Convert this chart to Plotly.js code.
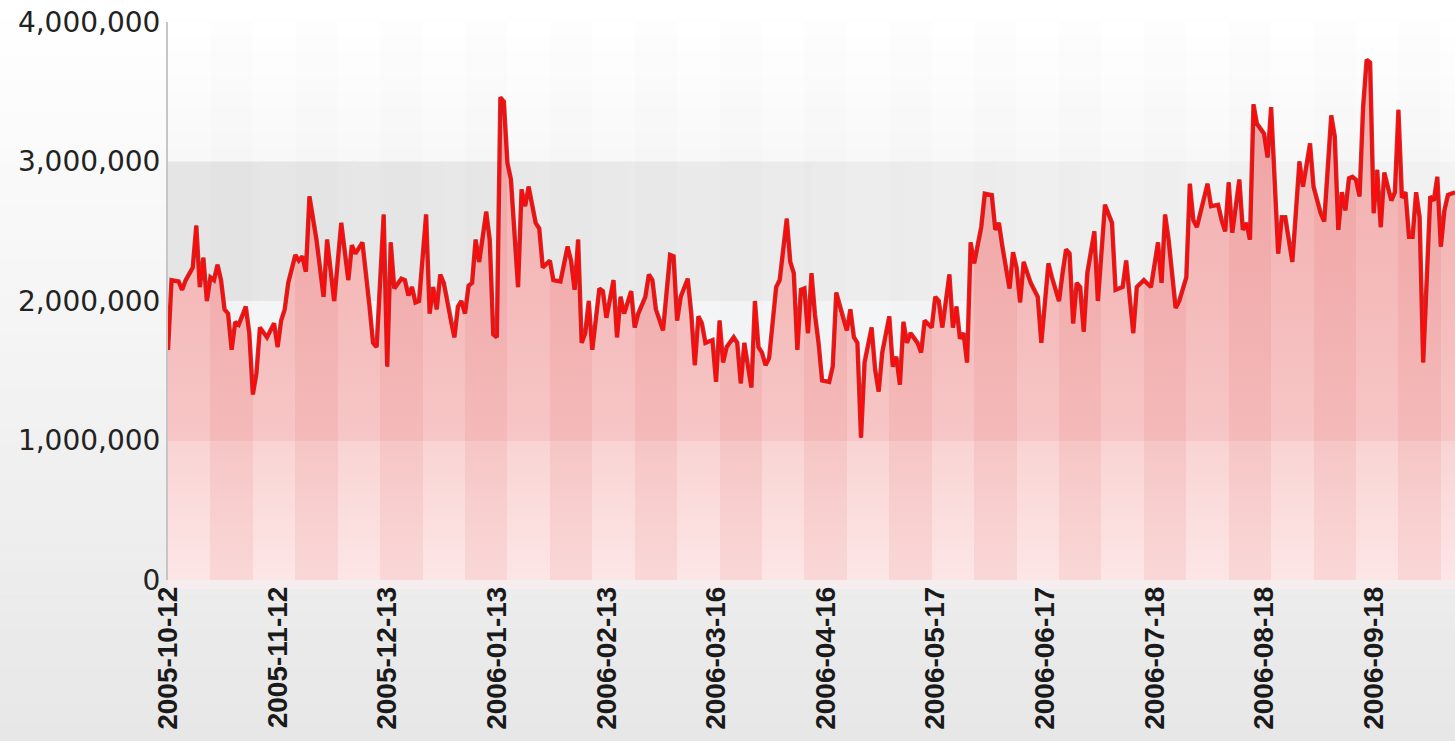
<!DOCTYPE html>
<html>
<head>
<meta charset="utf-8">
<script src="https://cdn.plot.ly/plotly-3.0.1.min.js"></script>
<style>
  html, body { margin: 0; padding: 0; background: #ffffff; }
  #chart { width: 1455px; height: 741px; }
</style>
</head>
<body>
<div id="chart"></div>
<script>
// ---------------- DATA ----------------
const startDate = '2005-10-12';
const endDate = '2006-10-11';

const dayOffsets = [
  0,1,3,4,5,7,8,9,10,11,12,13,14,15,16,17,18,19,20,22,23,24,25,26,28,30,31,32,33,34,
  36,37,38,39,40,42,44,45,47,49,51,52,53,55,57,58,59,61,62,63,64,66,67,68,69,70,71,73,74,75,
  76,77,78,80,81,82,83,84,85,86,87,88,90,91,92,93,94,95,96,97,99,100,101,102,104,105,106,108,109,111,
  113,114,115,116,117,118,119,120,122,123,124,126,127,128,129,131,132,133,135,136,137,138,140,142,143,144,145,147,148,149,
  150,151,152,154,155,156,157,158,160,161,162,163,165,166,167,168,169,170,172,173,175,176,177,178,179,180,181,182,183,184,
  185,187,188,189,191,192,193,194,195,196,197,199,200,201,202,204,205,206,207,208,209,210,212,213,214,216,217,218,219,221,
  222,223,224,225,226,227,228,229,230,231,233,234,235,236,238,239,240,241,242,244,246,247,249,250,252,253,254,255,256,257,
  258,259,260,262,263,265,267,268,270,271,273,274,276,278,280,281,282,283,285,286,288,289,290,291,294,295,297,298,299,300,
  301,303,304,305,306,307,308,310,311,312,313,314,315,316,318,320,321,323,324,326,327,329,330,331,332,333,334,335,336,337,
  338,339,340,341,342,343,344,346,347,348,349,350,351,352,353,354,355,356,357,358,359,360,361,362,364
];

const pageViews = [
  1650000,2150000,2140000,2080000,2150000,2240000,2540000,2100000,2310000,2000000,2170000,2150000,2260000,2150000,1940000,1910000,1650000,1850000,1830000,1960000,1770000,1330000,1480000,1810000,1740000,1840000,1670000,1860000,1940000,2130000,
  2330000,2290000,2320000,2210000,2750000,2440000,2030000,2440000,2000000,2560000,2150000,2400000,2340000,2420000,1960000,1700000,1670000,2620000,1530000,2420000,2090000,2160000,2150000,2040000,2100000,1990000,2000000,2620000,1910000,2100000,
  1940000,2190000,2130000,1840000,1740000,1960000,2000000,1910000,2110000,2130000,2440000,2280000,2640000,2440000,1760000,1740000,3460000,3430000,2990000,2870000,2100000,2800000,2680000,2820000,2560000,2520000,2240000,2290000,2150000,2140000,
  2390000,2290000,2080000,2440000,1700000,1770000,2000000,1650000,2090000,2070000,1880000,2150000,1740000,2030000,1910000,2070000,1810000,1910000,2030000,2190000,2150000,1940000,1790000,2330000,2320000,1860000,2030000,2160000,1910000,1540000,
  1890000,1840000,1700000,1720000,1420000,1860000,1560000,1670000,1740000,1700000,1410000,1700000,1380000,2000000,1670000,1630000,1540000,1590000,2100000,2150000,2590000,2280000,2200000,1650000,2080000,2090000,1770000,2200000,1900000,1700000,
  1430000,1420000,1530000,2060000,1860000,1790000,1940000,1740000,1700000,1020000,1560000,1810000,1510000,1350000,1630000,1890000,1530000,1600000,1400000,1850000,1700000,1770000,1700000,1630000,1860000,1810000,2030000,2000000,1810000,2190000,
  1810000,1960000,1730000,1770000,1560000,2420000,2270000,2390000,2530000,2770000,2760000,2510000,2560000,2390000,2090000,2350000,2240000,1990000,2280000,2130000,2030000,1700000,2270000,2170000,2000000,2200000,2370000,2340000,1840000,2130000,
  2100000,1780000,2200000,2500000,2000000,2690000,2560000,2080000,2100000,2290000,1770000,2100000,2150000,2100000,2420000,2130000,2620000,2440000,1950000,2000000,2170000,2840000,2580000,2530000,2840000,2680000,2690000,2580000,2500000,2850000,
  2490000,2870000,2510000,2560000,2440000,3410000,3270000,3200000,3030000,3390000,2870000,2340000,2600000,2600000,2280000,3000000,2820000,3130000,2820000,2630000,2570000,3330000,3180000,2510000,2780000,2650000,2880000,2890000,2870000,2750000,
  3390000,3730000,3710000,2630000,2940000,2530000,2920000,2720000,2780000,3370000,2740000,2780000,2460000,2460000,2780000,2600000,1560000,2200000,2750000,2720000,2890000,2390000,2650000,2760000,2780000
];

const tickDates = [
  '2005-10-12','2005-11-12','2005-12-13','2006-01-13','2006-02-13','2006-03-16',
  '2006-04-16','2006-05-17','2006-06-17','2006-07-18','2006-08-18','2006-09-18'
];
const yTickValues = [0, 1000000, 2000000, 3000000, 4000000];
const yTickLabels = ['0', '1,000,000', '2,000,000', '3,000,000', '4,000,000'];

// ---------------- HELPERS ----------------
const DAY = 86400000;
const t0 = Date.parse(startDate + 'T00:00:00Z');
const tEnd = Date.parse(endDate + 'T00:00:00Z');
const isoDay = ms => new Date(ms).toISOString().slice(0, 10);
const xDates = dayOffsets.map(d => isoDay(t0 + d * DAY));
const spanDays = (tEnd - t0) / DAY;

// vertical stripes every 12 days (style)
const STRIPE = 12;
const stripeScale = [];
const eps = 1e-5;
for (let k = 0; k * STRIPE < spanDays; k++) {
  const a = (k * STRIPE) / spanDays;
  const b = Math.min(1, ((k + 1) * STRIPE) / spanDays);
  const col = (k % 2 === 1) ? 'rgba(205,0,0,0.065)' : 'rgba(205,0,0,0)';
  stripeScale.push([a === 0 ? 0 : a + eps, col]);
  stripeScale.push([b === 1 ? 1 : b, col]);
}
stripeScale[stripeScale.length - 1][0] = 1;

// ---------------- SHAPES (background) ----------------
const shapes = [];
const H = 741, plotTop = 22, plotBot = 580, plotH = plotBot - plotTop;
const pyOf = px => (plotBot - px) / plotH;
const NP = 40;
for (let i = 0; i < NP; i++) {
  const y0 = i * H / NP, y1 = (i + 1) * H / NP;
  const c = Math.round(255 - 24 * ((y0 + y1) / 2) / H);
  shapes.push({type: 'rect', xref: 'paper', yref: 'paper', layer: 'below',
    x0: -0.2, x1: 1.05, y0: pyOf(y1), y1: pyOf(y0) + 0.001,
    fillcolor: `rgb(${c},${c},${c})`, line: {width: 0}});
}
const NB = 10;
for (let i = 0; i < NB; i++) {
  const c = Math.round(255 - 7 * (i + 0.5) / NB);
  shapes.push({type: 'rect', xref: 'paper', yref: 'y', layer: 'below',
    x0: 0, x1: 1, y1: 4000000 - i * 100000, y0: 4000000 - (i + 1) * 100000 - 1,
    fillcolor: `rgb(${c},${c},${c})`, line: {width: 0}});
}
for (let i = 0; i < 14; i++) {
  const c = Math.round(228 + 16 * (i + 0.5) / 14);
  shapes.push({type: 'rect', xref: 'paper', yref: 'y', layer: 'below',
    x0: i / 14, x1: (i + 1) / 14 + 0.002, y0: 2000000, y1: 3000000,
    fillcolor: `rgb(${c},${c},${c})`, line: {width: 0}});
}
shapes.push({type: 'rect', xref: 'paper', yref: 'y', layer: 'below',
  x0: 0, x1: 1, y0: 1000000, y1: 2000000, fillcolor: '#f4f5f7', line: {width: 0}});
shapes.push({type: 'rect', xref: 'paper', yref: 'y', layer: 'below',
  x0: 0, x1: 1, y0: 0, y1: 1000000, fillcolor: '#f8f8f8', line: {width: 0}});
for (let k = 1; k * STRIPE < spanDays; k += 2) {
  shapes.push({type: 'rect', xref: 'x', yref: 'paper', layer: 'below',
    x0: isoDay(t0 + k * STRIPE * DAY), x1: isoDay(t0 + Math.min(spanDays, (k + 1) * STRIPE) * DAY),
    y0: 0, y1: 1, fillcolor: 'rgba(0,0,0,0.007)', line: {width: 0}});
}
shapes.push({type: 'rect', xref: 'paper', yref: 'paper', layer: 'below',
  x0: 0, x1: 1, y0: -0.016, y1: 0, fillcolor: '#f6eeee', line: {width: 0}});

// ---------------- TRACES ----------------
const fillBase = {
  x: xDates, y: pageViews, type: 'scatter', mode: 'none', fill: 'tozeroy',
  hoverinfo: 'skip', showlegend: false,
  fillgradient: {
    type: 'vertical', start: 0, stop: 4000000,
    colorscale: [
      [0, '#fde6e6'], [0.2499, '#f9d3d3'], [0.25, '#f7c6c6'],
      [0.5, '#f5bbbb'], [0.75, '#f3b2b2'], [1, '#f1a8a8']
    ]
  }
};
const fillStripes = {
  x: xDates, y: pageViews, type: 'scatter', mode: 'none', fill: 'tozeroy',
  hoverinfo: 'skip', showlegend: false,
  fillgradient: {type: 'horizontal', start: t0, stop: tEnd, colorscale: stripeScale}
};
const lineShadow = {
  x: xDates, y: pageViews, type: 'scatter', mode: 'lines',
  line: {color: 'rgba(160,0,0,0.75)', width: 4.4}, hoverinfo: 'skip', showlegend: false
};
const line = {
  x: xDates, y: pageViews, type: 'scatter', mode: 'lines',
  line: {color: '#ff0a0a', width: 2.6}, showlegend: false
};

const layout = {
  width: 1455, height: 741,
  margin: {l: 168, r: 0, t: 22, b: 161, pad: 0},
  paper_bgcolor: '#ffffff',
  plot_bgcolor: 'rgba(0,0,0,0)',
  showlegend: false,
  hovermode: false,
  shapes: shapes,
  xaxis: {
    type: 'date', range: [startDate, endDate],
    tickmode: 'array', tickvals: tickDates, ticktext: tickDates,
    tickangle: -90,
    tickfont: {family: 'Liberation Sans, Arial, sans-serif', size: 28, color: '#1a1a1a', weight: 'bold'},
    showgrid: false, zeroline: false, showline: false, ticks: '',
    fixedrange: true
  },
  yaxis: {
    range: [0, 4000000],
    tickmode: 'array', tickvals: yTickValues, ticktext: yTickLabels,
    tickfont: {family: 'DejaVu Sans, sans-serif', size: 28, color: '#222222'},
    showgrid: false, zeroline: false,
    showline: true, linecolor: '#c6c6c6', linewidth: 2,
    ticks: '', fixedrange: true
  }
};

Plotly.newPlot('chart', [fillBase, fillStripes, lineShadow, line], layout,
  {displayModeBar: false, staticPlot: true, responsive: false});
</script>
</body>
</html>
